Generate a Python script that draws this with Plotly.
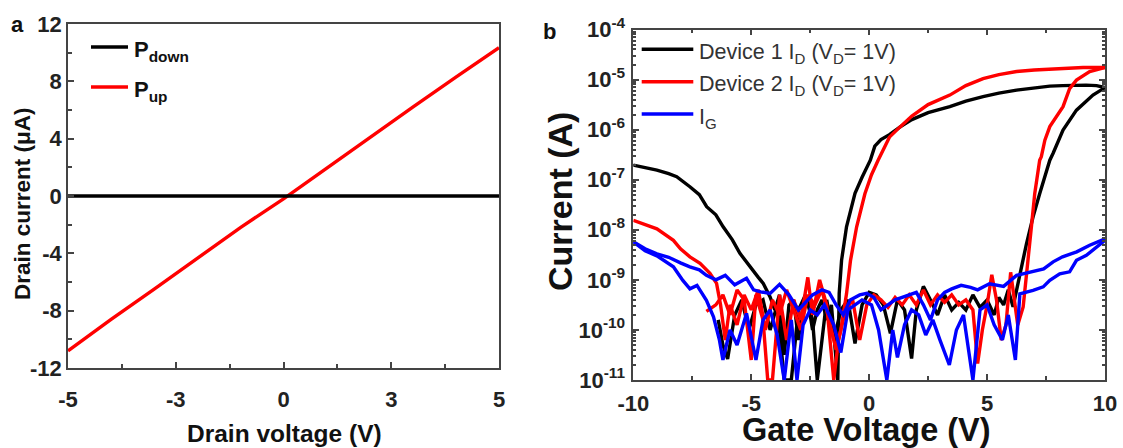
import plotly.graph_objects as go

W, H = 1123, 448

# ---------------- Panel a data ----------------
drain_v = [-5, -4, -3, -2, -1, 0, 1, 2, 3, 4, 5]
i_pdown_uA = [0.0, 0.0, 0.0, 0.0, 0.0, 0.0, 0.0, 0.0, 0.0, 0.0, 0.0]
i_pup_uA = [-10.8, -8.6, -6.5, -4.35, -2.2, -0.2, 1.95, 4.1, 6.2, 8.3, 10.35]
xtick_vals_a = [-5, -2.5, 0, 2.5, 5]
xtick_text_a = ["-5", "-3", "0", "3", "5"]
ytick_vals_a = [-12, -8, -4, 0, 4, 8, 12]
ytick_text_a = ["-12", "-8", "-4", "0", "4", "8", "12"]

# ---------------- Panel b data (log10 of current in A) ----------------
dev1_fwd_v = [-10, -9.5, -9.0, -8.5, -8.16, -7.6, -7.2, -6.89, -6.5, -6.19, -5.8, -5.48, -5.2, -4.92, -4.7,
              -4.49, -4.3, -4.2, -4.0, -3.8, -3.6, -3.4, -3.2, -3.0, -2.8, -2.6, -2.4, -2.2, -2.0, -1.8,
              -1.6, -1.45, -1.33, -1.27, -1.17, -0.96, -0.6, -0.3, 0.05, 0.24, 0.5, 0.86, 1.3, 1.81, 2.5,
              3.42, 4.1, 4.83, 5.5, 6.25, 7.0, 7.66, 8.2, 8.79, 9.2, 9.64, 10]
dev1_fwd_log = [-6.71, -6.76, -6.81, -6.88, -6.94, -7.14, -7.3, -7.54, -7.7, -7.94, -8.2, -8.47, -8.65, -8.81, -8.95,
                -9.07, -9.25, -9.34, -9.6, -9.3, -10.5, -9.5, -9.4, -10.2, -9.5, -9.4, -10.0, -9.6, -9.4, -9.8,
                -9.5, -10.3, -11.0, -9.27, -8.61, -7.94, -7.27, -6.95, -6.61, -6.33, -6.2, -6.1, -5.95, -5.8, -5.66,
                -5.54, -5.43, -5.34, -5.27, -5.21, -5.16, -5.13, -5.12, -5.11, -5.11, -5.12, -5.16]

dev1_rev_v = [10, 9.49, 8.79, 8.22, 7.8, 7.66, 7.23, 6.95, 6.67, 6.46, 6.25, 6.1, 5.9, 5.7, 5.5, 5.3, 5.0,
              4.7, 4.4, 4.1, 3.8, 3.5, 3.2, 2.9, 2.6, 2.3, 2.0, 1.8, 1.5, 1.2, 0.9, 0.6, 0.3, 0.0, -0.3,
              -0.6, -0.9, -1.2, -1.5, -1.8, -2.0, -2.2, -2.4, -2.7, -3.0, -3.3, -3.6, -3.9, -4.2, -4.5,
              -4.8, -5.1, -5.4, -5.7, -6.0, -6.2, -6.4]
dev1_rev_log = [-5.16, -5.31, -5.61, -6.01, -6.47, -6.61, -7.28, -7.74, -8.28, -8.74, -9.14, -9.54, -9.2, -9.5,
                -9.35, -9.7, -9.4, -9.55, -9.3, -9.6, -9.45, -9.6, -9.3, -9.7, -9.4, -9.13, -9.6, -10.57, -9.6,
                -9.4, -10.07, -9.5, -9.3, -9.25, -9.5, -10.27, -9.4, -9.6, -10.2, -9.4, -10.2, -11.0, -9.8,
                -9.3, -9.6, -11.0, -11.0, -9.5, -10.0, -9.4, -9.5, -10.0, -9.4, -9.7, -10.58, -10.3, -9.8]

dev2_fwd_v = [-10, -9.5, -9.0, -8.3, -8.0, -7.6, -7.17, -6.75, -6.47, -6.3, -6.1, -5.9, -5.6, -5.3, -5.0,
              -4.7, -4.4, -4.1, -3.8, -3.5, -3.2, -2.9, -2.6, -2.3, -2.0, -1.7, -1.4, -1.2, -0.96, -0.79,
              -0.53, -0.18, 0.1, 0.38, 0.6, 0.86, 1.3, 1.81, 2.5, 3.42, 4.1, 4.83, 5.5, 6.25, 7.0, 7.66,
              8.4, 9.07, 9.6, 10]
dev2_fwd_log = [-7.81, -7.9, -7.98, -8.21, -8.38, -8.54, -8.67, -8.87, -9.07, -9.5, -10.2, -9.5, -9.9, -9.3,
                -9.6, -9.2, -10.0, -9.4, -9.7, -9.2, -9.6, -10.0, -9.3, -9.5, -9.2, -9.8, -10.4, -10.0, -9.28,
                -8.61, -7.94, -7.28, -6.9, -6.61, -6.4, -6.15, -5.95, -5.73, -5.5, -5.31, -5.12, -4.98, -4.9,
                -4.84, -4.81, -4.79, -4.77, -4.76, -4.76, -4.76]

dev2_rev_v = [10, 9.35, 8.79, 8.5, 8.22, 7.66, 7.45, 7.3, 7.23, 7.02, 6.88, 6.74, 6.6, 6.53, 6.3, 6.0, 5.8,
              5.6, 5.4, 5.2, 5.0, 4.8, 4.6, 4.4, 4.1, 3.8, 3.5, 3.2, 2.9, 2.6, 2.3, 2.0, 1.7, 1.4, 1.1, 0.8,
              0.5, 0.2, -0.1, -0.4, -0.7, -1.0, -1.3, -1.5, -1.8, -2.1, -2.4, -2.6, -2.9, -3.2, -3.5, -3.8,
              -4.1, -4.3, -4.5, -4.8, -5.0, -5.3, -5.6, -5.9, -6.2, -6.5, -6.9]
dev2_rev_log = [-4.76, -4.84, -5.01, -5.18, -5.54, -5.94, -6.21, -6.54, -6.61, -7.28, -7.94, -8.61, -9.28,
                -9.54, -9.9, -8.85, -9.9, -10.2, -9.4, -8.9, -9.5, -10.0, -10.67, -9.6, -9.4, -9.5, -9.3,
                -9.45, -9.3, -9.5, -9.2, -9.5, -9.3, -9.5, -9.35, -9.55, -9.4, -9.3, -9.5, -10.2, -9.4, -9.6,
                -10.2, -11.0, -9.5, -9.0, -9.7, -8.95, -9.8, -9.4, -10.2, -9.3, -11.0, -11.0, -9.8, -9.3,
                -10.6, -9.4, -9.2, -9.7, -9.3, -9.5, -9.63]

ig_a_v = [-10, -9.5, -9.0, -8.5, -8.0, -7.6, -7.2, -6.9, -6.5, -6.1, -5.7, -5.2, -4.9, -4.6, -4.2, -3.8, -3.4,
          -3.0, -2.7, -2.4, -2.0, -1.7, -1.4, -1.1, -0.8, -0.4, -0.1, 0.2, 0.5, 0.8, 1.1, 1.4, 1.7, 2.0, 2.3,
          2.6, 2.9, 3.2, 3.5, 3.9, 4.3, 4.6, 5.1, 5.7, 6.25, 6.8, 7.4, 7.8, 8.2, 8.8, 9.35, 10]
ig_a_log = [-8.24, -8.38, -8.48, -8.55, -8.66, -8.74, -8.8, -8.91, -9.0, -8.91, -9.1, -8.97, -9.2, -9.24, -9.27,
            -9.09, -9.3, -9.6, -9.45, -9.3, -9.2, -9.25, -9.5, -9.7, -9.4, -9.3, -9.27, -9.35, -9.6, -9.5, -9.4,
            -9.35, -9.3, -9.25, -9.5, -9.8, -9.4, -9.25, -9.18, -9.11, -9.15, -9.2, -9.08, -9.13, -8.91, -8.84,
            -8.78, -8.64, -8.54, -8.44, -8.31, -8.18]

ig_b_v = [-10, -9.5, -9.0, -8.3, -7.9, -7.6, -7.3, -6.9, -6.6, -6.35, -6.2, -6.0, -5.9, -5.6, -5.2, -4.8, -4.5,
          -4.2, -3.9, -3.6, -3.3, -3.06, -2.8, -2.5, -2.2, -1.9, -1.5, -1.2, -0.9, -0.6, -0.3, 0.1, 0.4, 0.75,
          1.0, 1.2, 1.5, 1.8, 2.1, 2.4, 2.7, 3.0, 3.4, 3.7, 4.0, 4.4, 4.7, 5.0, 5.3, 5.65, 5.9, 6.2, 6.39,
          6.95, 7.38, 7.66, 8.08, 8.5, 8.79, 9.21, 10]
ig_b_log = [-8.24, -8.42, -8.52, -8.74, -9.01, -9.18, -9.11, -9.41, -9.74, -10.2, -10.6, -10.2, -10.0, -10.3,
            -9.67, -10.6, -9.8, -9.6, -10.1, -11.0, -9.8, -11.0, -9.9, -9.6, -9.7, -9.5, -9.9, -10.45, -9.6,
            -9.5, -9.4, -9.5, -10.0, -11.0, -10.0, -10.55, -9.9, -9.6, -9.7, -10.1, -9.8, -10.2, -10.7, -10.0,
            -9.7, -11.0, -9.6, -9.5, -9.9, -10.2, -9.7, -10.6, -9.28, -9.21, -9.14, -9.01, -8.88, -8.84, -8.61,
            -8.51, -8.21]

xtick_vals_b = [-10, -5, 0, 5, 10]
xtick_text_b = ["-10", "-5", "0", "5", "10"]
y_decades = [-11, -10, -9, -8, -7, -6, -5, -4]
ytick_labels_b = ["10<sup>%d</sup>" % d for d in y_decades]

FONT = "Liberation Sans, Arial, sans-serif"


def amps(logs):
    return [10 ** v for v in logs]


fig = go.Figure()
LW = 3.4
# panel a
fig.add_trace(go.Scatter(x=drain_v, y=i_pup_uA, mode="lines", line=dict(color="#ff0000", width=LW),
                         xaxis="x", yaxis="y", showlegend=False))
fig.add_trace(go.Scatter(x=drain_v, y=i_pdown_uA, mode="lines", line=dict(color="#000000", width=LW),
                         xaxis="x", yaxis="y", showlegend=False))
# panel b
for xs, ls, col in [(dev1_fwd_v, dev1_fwd_log, "#000000"), (dev1_rev_v, dev1_rev_log, "#000000"),
                    (dev2_fwd_v, dev2_fwd_log, "#ff0000"), (dev2_rev_v, dev2_rev_log, "#ff0000"),
                    (ig_a_v, ig_a_log, "#0000ff"), (ig_b_v, ig_b_log, "#0000ff")]:
    fig.add_trace(go.Scatter(x=xs, y=amps(ls), mode="lines", line=dict(color=col, width=LW),
                             xaxis="x2", yaxis="y2", showlegend=False))

AX = dict(showline=True, linecolor="#444444", linewidth=1.5, showgrid=False, zeroline=False,
          ticks="inside", ticklen=6, tickwidth=1.5, tickcolor="#444444", automargin=False,
          tickfont=dict(family=FONT, size=22, color="#222222", weight="bold"))

minor_b = [m * 10.0 ** e for e in range(-11, -4) for m in range(2, 10)]

fig.update_layout(
    width=W, height=H, margin=dict(l=0, r=0, t=0, b=0, autoexpand=False),
    paper_bgcolor="white", plot_bgcolor="white",
    xaxis=dict(AX, domain=[68 / W, 499 / W], range=[-5, 5], mirror=True, anchor="y",
               tickvals=xtick_vals_a, ticktext=xtick_text_a, ticklabelstandoff=11,
               minor=dict(tickvals=[-3.75, -1.25, 1.25, 3.75], ticks="inside", ticklen=4, tickcolor="#444444")),
    yaxis=dict(AX, domain=[1 - 368 / H, 1 - 24 / H], range=[-12, 12], mirror=True, anchor="x",
               tickvals=ytick_vals_a, ticktext=ytick_text_a, ticklabelstandoff=0,
               minor=dict(tickvals=[-10, -6, -2, 2, 6, 10], ticks="inside", ticklen=4, tickcolor="#444444")),
    xaxis2=dict(AX, domain=[633.3 / W, 1105 / W], range=[-10, 10], mirror="ticks", anchor="y2",
                tickvals=xtick_vals_b, ticktext=xtick_text_b, ticklabelstandoff=3,
                minor=dict(tickvals=[-7.5, -2.5, 2.5, 7.5], ticks="inside", ticklen=4, tickcolor="#444444")),
    yaxis2=dict(AX, domain=[1 - 380 / H, 1 - 29.5 / H], type="log", range=[-11, -4], mirror="ticks",
                anchor="x2", tickvals=[10.0 ** d for d in y_decades], ticktext=ytick_labels_b,
                ticklabelstandoff=2,
                minor=dict(tickvals=minor_b, ticks="inside", ticklen=3, tickcolor="#444444")),
)


def px(x):
    return x / W


def py(y):
    return 1 - y / H


ann = []


def text(x, y, s, size, bold=True, angle=0, xanchor="center", yanchor="middle", color="#111111"):
    ann.append(dict(x=px(x), y=py(y), xref="paper", yref="paper", text=s, showarrow=False,
                    textangle=angle, xanchor=xanchor, yanchor=yanchor,
                    font=dict(family=FONT, size=size, color=color, weight="bold" if bold else "normal")))


text(17, 25, "a", 22)
text(549, 32, "b", 22)
text(284, 433, "Drain voltage (V)", 24.5)
text(23, 204, "Drain current (μA)", 22.5, angle=-90)
text(866, 430, "Gate Voltage (V)", 32.5)
text(560, 202, "Current (A)", 34, angle=-90)

# legend panel a
shapes = []
for yy, col, lab in [(47, "#000000", "P<sub>down</sub>"), (87, "#ff0000", "P<sub>up</sub>")]:
    shapes.append(dict(type="line", xref="paper", yref="paper", x0=px(91), x1=px(128), y0=py(yy), y1=py(yy),
                       line=dict(color=col, width=3.4)))
    text(132, yy + 4, lab, 22, xanchor="left")

# legend panel b
for yy, col, lab in [(49.3, "#000000", "Device 1 I<sub>D</sub> (V<sub>D</sub>= 1V)"),
                     (81.7, "#ff0000", "Device 2 I<sub>D</sub> (V<sub>D</sub>= 1V)"),
                     (114, "#0000ff", "I<sub>G</sub>")]:
    shapes.append(dict(type="line", xref="paper", yref="paper", x0=px(641.7), x1=px(693.3), y0=py(yy), y1=py(yy),
                       line=dict(color=col, width=3.4)))
    text(697, yy + 4, lab, 21.5, bold=False, xanchor="left", color="#333333")

fig.update_layout(annotations=ann, shapes=shapes)
fig.write_html("out.html", config={"displayModeBar": False})
